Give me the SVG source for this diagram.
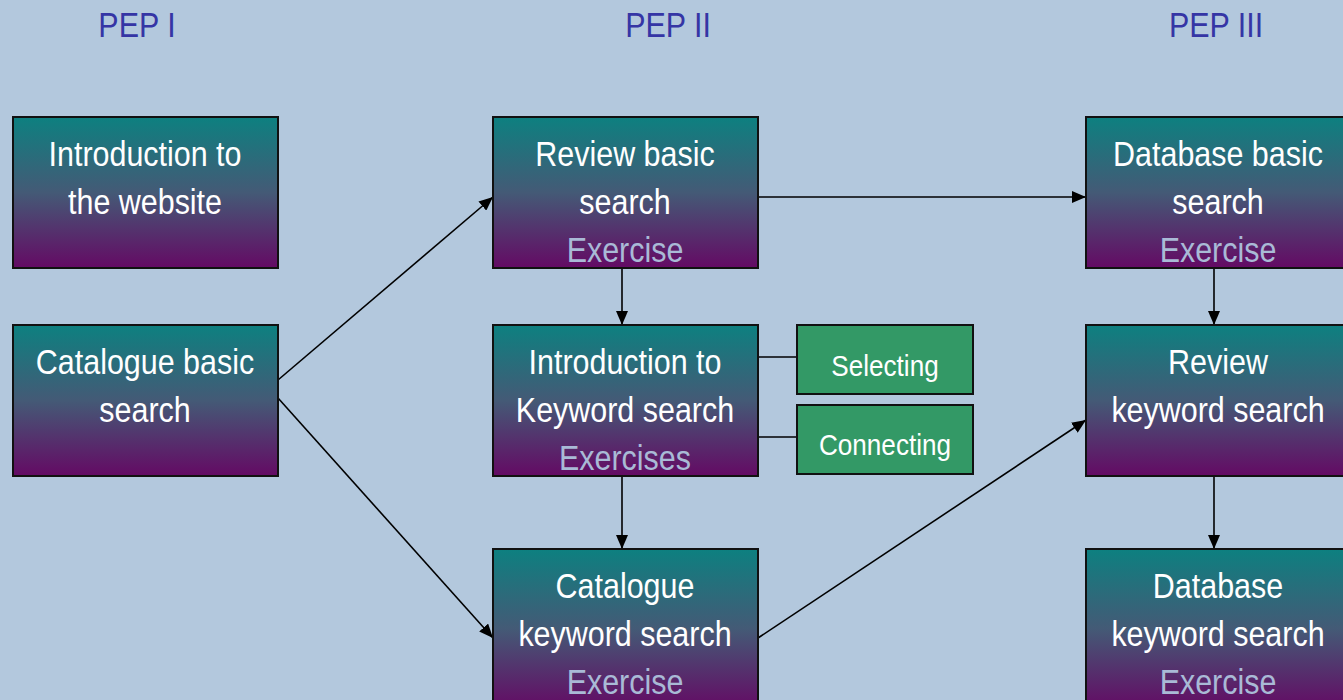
<svg xmlns="http://www.w3.org/2000/svg" width="1343" height="700" viewBox="0 0 1343 700">
<defs>
<linearGradient id="g" x1="0" y1="0" x2="0" y2="1">
<stop offset="0" stop-color="#0d8080"/>
<stop offset="0.5" stop-color="#445a76"/>
<stop offset="1" stop-color="#640a64"/>
</linearGradient>
<marker id="ah" viewBox="0 0 14 12" refX="14" refY="6" markerWidth="14" markerHeight="12" markerUnits="userSpaceOnUse" orient="auto">
<path d="M0,0 L14,6 L0,12 Z" fill="#000"/>
</marker>
<style>
.box{fill:url(#g);stroke:#111;stroke-width:2}
.gb{fill:#339966;stroke:#111;stroke-width:2}
text{font-family:"Liberation Sans",Arial,sans-serif;text-anchor:middle}
.t{fill:#fff;font-size:35px}
.e{fill:#a9bad6;font-size:35px}
.h{fill:#3535a5;font-size:35px}
.s{fill:#fff;font-size:30px}
.c line{stroke:#000;stroke-width:1.6}
</style>
</defs>
<rect width="1343" height="700" fill="#b3c8dd"/>
<g id="headers">
<text class="h" transform="translate(137 37) scale(.87 1)">PEP I</text>
<text class="h" transform="translate(668 37) scale(.87 1)">PEP II</text>
<text class="h" transform="translate(1216 37) scale(.87 1)">PEP III</text>
</g>
<g class="c" id="connectors">
<line x1="278" y1="380" x2="493" y2="197" marker-end="url(#ah)"/>
<line x1="278" y1="398" x2="493" y2="638" marker-end="url(#ah)"/>
<line x1="758" y1="197" x2="1086" y2="197" marker-end="url(#ah)"/>
<line x1="622" y1="268" x2="622" y2="325" marker-end="url(#ah)"/>
<line x1="622" y1="476" x2="622" y2="549" marker-end="url(#ah)"/>
<line x1="758" y1="638" x2="1086" y2="420" marker-end="url(#ah)"/>
<line x1="1214" y1="268" x2="1214" y2="325" marker-end="url(#ah)"/>
<line x1="1214" y1="476" x2="1214" y2="549" marker-end="url(#ah)"/>
<line x1="758" y1="357" x2="797" y2="357"/>
<line x1="758" y1="437" x2="797" y2="437"/>
</g>
<g id="n1"><rect class="box" x="13" y="117" width="265" height="151"/>
<text class="t" transform="translate(145 166) scale(.87 1)">Introduction to</text><text class="t" transform="translate(145 214) scale(.87 1)">the website</text></g>
<g id="n2"><rect class="box" x="13" y="325" width="265" height="151"/>
<text class="t" transform="translate(145 374) scale(.87 1)">Catalogue basic</text><text class="t" transform="translate(145 422) scale(.87 1)">search</text></g>
<g id="n3"><rect class="box" x="493" y="117" width="265" height="151"/>
<text class="t" transform="translate(625 166) scale(.87 1)">Review basic</text><text class="t" transform="translate(625 214) scale(.87 1)">search</text><text class="e" transform="translate(625 262) scale(.87 1)">Exercise</text></g>
<g id="n4"><rect class="box" x="493" y="325" width="265" height="151"/>
<text class="t" transform="translate(625 374) scale(.87 1)">Introduction to</text><text class="t" transform="translate(625 422) scale(.87 1)">Keyword search</text><text class="e" transform="translate(625 470) scale(.87 1)">Exercises</text></g>
<g id="n5"><rect class="box" x="493" y="549" width="265" height="160"/>
<text class="t" transform="translate(625 598) scale(.87 1)">Catalogue</text><text class="t" transform="translate(625 646) scale(.87 1)">keyword search</text><text class="e" transform="translate(625 694) scale(.87 1)">Exercise</text></g>
<g id="n6"><rect class="box" x="1086" y="117" width="265" height="151"/>
<text class="t" transform="translate(1218 166) scale(.87 1)">Database basic</text><text class="t" transform="translate(1218 214) scale(.87 1)">search</text><text class="e" transform="translate(1218 262) scale(.87 1)">Exercise</text></g>
<g id="n7"><rect class="box" x="1086" y="325" width="265" height="151"/>
<text class="t" transform="translate(1218 374) scale(.87 1)">Review</text><text class="t" transform="translate(1218 422) scale(.87 1)">keyword search</text></g>
<g id="n8"><rect class="box" x="1086" y="549" width="265" height="160"/>
<text class="t" transform="translate(1218 598) scale(.87 1)">Database</text><text class="t" transform="translate(1218 646) scale(.87 1)">keyword search</text><text class="e" transform="translate(1218 694) scale(.87 1)">Exercise</text></g>
<g id="n9"><rect class="gb" x="797" y="325" width="176" height="69"/>
<text class="s" transform="translate(885 376) scale(.87 1)">Selecting</text></g>
<g id="n10"><rect class="gb" x="797" y="405" width="176" height="69"/>
<text class="s" transform="translate(885 455) scale(.87 1)">Connecting</text></g>
</svg>
